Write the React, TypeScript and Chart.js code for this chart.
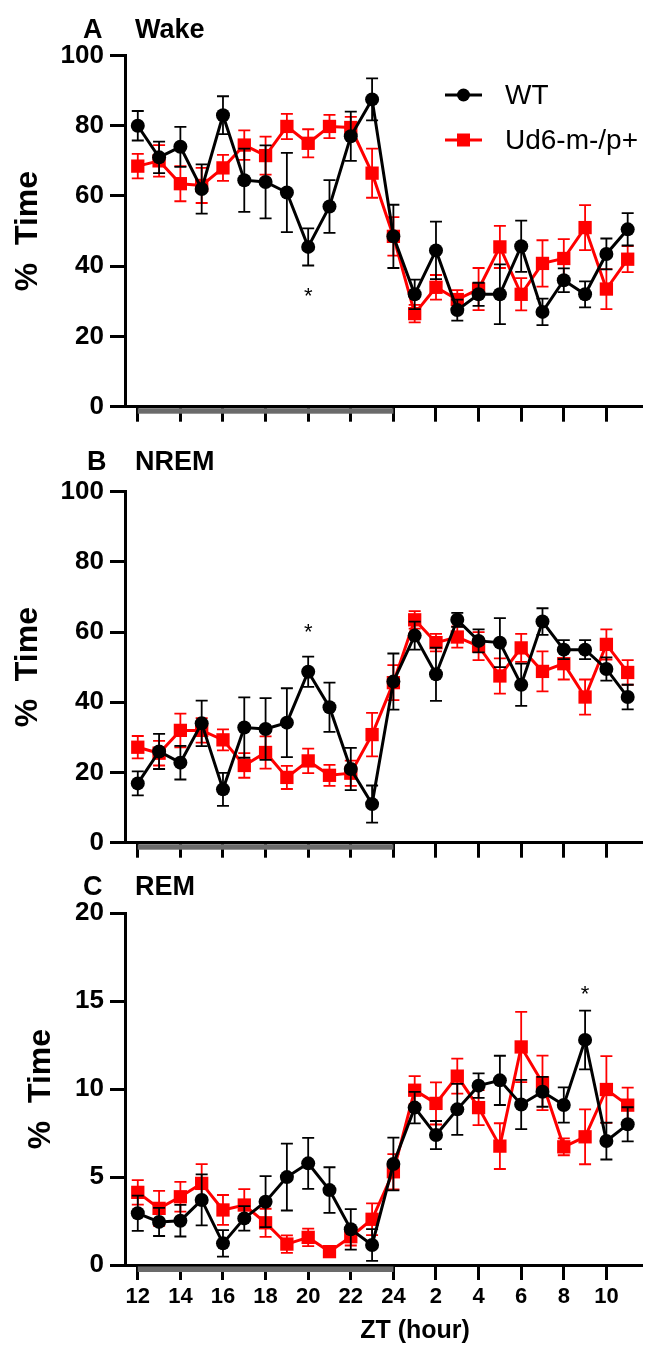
import React, { useEffect, useRef } from 'react';
import { Chart, registerables } from 'chart.js';

Chart.register(...registerables);

const FONT = "'Liberation Sans', Arial, Helvetica, sans-serif";

// ZT hours, one point per hour (index 0 = ZT12 ... index 23 = ZT11)
const ztHours = [12, 13, 14, 15, 16, 17, 18, 19, 20, 21, 22, 23, 24, 1, 2, 3, 4, 5, 6, 7, 8, 9, 10, 11];
const xTickPositions = [0, 2, 4, 6, 8, 10, 12, 14, 16, 18, 20, 22];
const xTickLabels = ['12', '14', '16', '18', '20', '22', '24', '2', '4', '6', '8', '10'];
const darkPhase = [0, 12];

const seriesNames = ['WT', 'Ud6-m-/p+'];
const seriesColors = ['#000000', '#ff0000'];

// Panel A: Wake
const wakeWT = [80, 71, 74, 62, 83, 64.5, 64, 61, 45.5, 57, 77, 87.5, 48.5, 32, 44.5, 27.5, 32, 32, 45.7, 27, 36, 32, 43.5, 50.5];
const wakeWTsem = [4.2, 4.5, 5.7, 7, 5.4, 9, 10.4, 11.3, 5.3, 7.5, 7, 6, 9, 4.2, 8.2, 3, 3.3, 8.5, 7.3, 3.8, 3.4, 3.7, 4.4, 4.6];
const wakeMut = [68.5, 70, 63.5, 63, 68, 74.5, 71.5, 79.8, 75, 79.8, 79.5, 66.5, 48.5, 26.5, 34, 30.5, 33.5, 45.5, 32, 40.8, 42.2, 51, 33.5, 42];
const wakeMutSem = [3.5, 4.5, 5, 5, 3.7, 4.2, 5.4, 3.6, 4, 3.3, 3, 7, 5.5, 2.5, 3.5, 2.7, 6, 6, 4.6, 6.6, 5.5, 6.4, 5.7, 3.7];

// Panel B: NREM
const nremWT = [16.9, 26, 22.8, 34, 15.2, 32.8, 32.4, 34.2, 48.7, 38.6, 21, 11, 45.9, 59, 48, 63.5, 57.5, 57, 45, 63, 55, 55, 49.5, 41.5];
const nremWTsem = [3.4, 5, 4.8, 6.5, 4.7, 8.6, 8.8, 9.8, 4.3, 7, 6, 5.3, 8, 4, 7.6, 2, 3.3, 7, 6, 3.8, 2.7, 2.7, 3.3, 3.5];
const nremMut = [27.2, 25.5, 32, 32, 29.3, 22, 25.7, 18.6, 23.3, 19.2, 19.8, 30.8, 45.6, 63.5, 57, 58.6, 56, 47.5, 55.5, 48.8, 51, 41.5, 56.5, 48.5];
const nremMutSem = [3.2, 3.5, 4.8, 3.5, 3, 3.5, 4.6, 3.3, 3.5, 3, 3.6, 6.2, 5, 2.5, 2.5, 3, 4, 5, 4, 5.7, 4.5, 5, 4.3, 3.5];

// Panel C: REM
const remWT = [2.94, 2.45, 2.52, 3.7, 1.23, 2.65, 3.6, 5.0, 5.78, 4.26, 2.03, 1.14, 5.74, 8.95, 7.39, 8.85, 10.2, 10.5, 9.13, 9.85, 9.1, 12.8, 7.05, 8.0];
const remWTsem = [1.0, 0.8, 0.9, 1.45, 0.75, 0.7, 1.45, 1.9, 1.45, 1.3, 1.15, 0.9, 1.5, 0.9, 0.8, 1.45, 0.7, 1.4, 1.4, 0.85, 1.0, 1.67, 1.05, 0.97];
const remMut = [4.13, 3.22, 3.88, 4.64, 3.13, 3.41, 2.4, 1.19, 1.57, 0.76, 1.61, 2.6, 5.3, 9.94, 9.19, 10.74, 8.95, 6.76, 12.4, 10.36, 6.72, 7.29, 9.98, 9.09];
const remMutSem = [0.7, 1.0, 0.85, 1.1, 0.85, 0.9, 0.8, 0.5, 0.5, 0.3, 0.5, 0.9, 1.0, 0.8, 1.2, 1.0, 1.0, 1.3, 2.0, 1.55, 0.48, 1.56, 1.9, 1.0];

// significance marks: [point index, y value]
const starA = [8, 33];
const starB = [8, 61.5];
const starC = [21, 15.7];

const yTicksA = [0, 20, 40, 60, 80, 100];
const yTicksC = [0, 5, 10, 15, 20];

type PanelCfg = {
  letter: string;
  title: string;
  yTicks: number[];
  wt: number[];
  wtSem: number[];
  mut: number[];
  mutSem: number[];
  star: number[];
  legend: boolean;
  xLabels: boolean;
  top: number;
  height: number;
  areaTop: number;
  areaBottom: number;
  titleY: number;
  letterX: number;
  yTitlePad: number;
};

const panels: PanelCfg[] = [
  { letter: 'A', title: 'Wake', yTicks: yTicksA, wt: wakeWT, wtSem: wakeWTsem, mut: wakeMut, mutSem: wakeMutSem, star: starA,
    legend: true, xLabels: false, top: 0, height: 430, areaTop: 55.5, areaBottom: 406.7, titleY: 38, letterX: 83, yTitlePad: 9 },
  { letter: 'B', title: 'NREM', yTicks: yTicksA, wt: nremWT, wtSem: nremWTsem, mut: nremMut, mutSem: nremMutSem, star: starB,
    legend: false, xLabels: false, top: 430, height: 430, areaTop: 61.7, areaBottom: 412.7, titleY: 40, letterX: 87, yTitlePad: 9 },
  { letter: 'C', title: 'REM', yTicks: yTicksC, wt: remWT, wtSem: remWTsem, mut: remMut, mutSem: remMutSem, star: starC,
    legend: false, xLabels: true, top: 860, height: 487, areaTop: 53.3, areaBottom: 405, titleY: 35, letterX: 83, yTitlePad: 22 },
];

function Panel({ cfg }: { cfg: PanelCfg }) {
  const ref = useRef<HTMLCanvasElement>(null);
  useEffect(() => {
    const canvas = ref.current;
    if (!canvas) return;
    const H = cfg.height;
    const series = [cfg.wt, cfg.mut];
    const sems = [cfg.wtSem, cfg.mutSem];
    const yMax = cfg.yTicks[cfg.yTicks.length - 1];

    const deco = {
      id: 'deco',
      beforeDatasetDraw(chart: any, args: any) {
        const i = args.index;
        const xs = chart.scales.x;
        const ys = chart.scales.y;
        const ctx = chart.ctx;
        ctx.save();
        ctx.strokeStyle = seriesColors[i];
        ctx.lineWidth = 1.8;
        series[i].forEach((v: number, j: number) => {
          const s = sems[i][j];
          const x = xs.getPixelForValue(j);
          const y1 = ys.getPixelForValue(v + s);
          const y2 = ys.getPixelForValue(v - s);
          ctx.beginPath();
          ctx.moveTo(x, y1);
          ctx.lineTo(x, y2);
          ctx.moveTo(x - 6, y1);
          ctx.lineTo(x + 6, y1);
          ctx.moveTo(x - 6, y2);
          ctx.lineTo(x + 6, y2);
          ctx.stroke();
        });
        ctx.restore();
      },
      afterDraw(chart: any) {
        const xs = chart.scales.x;
        const ys = chart.scales.y;
        const ctx = chart.ctx;
        const area = chart.chartArea;
        ctx.save();
        // dark phase bar
        const x0 = xs.getPixelForValue(darkPhase[0]);
        const x1 = xs.getPixelForValue(darkPhase[1]);
        ctx.fillStyle = '#6b6b6b';
        ctx.fillRect(x0, area.bottom + 1.5, x1 - x0, 5.5);
        // significance star
        ctx.fillStyle = '#000';
        ctx.font = `22px ${FONT}`;
        ctx.textAlign = 'center';
        ctx.textBaseline = 'alphabetic';
        ctx.fillText('*', xs.getPixelForValue(cfg.star[0]), ys.getPixelForValue(cfg.star[1]) + 12.5);
        // panel letter and title
        ctx.font = `bold 27px ${FONT}`;
        ctx.textAlign = 'left';
        ctx.fillText(cfg.letter, cfg.letterX, cfg.titleY);
        ctx.fillText(cfg.title, 135, cfg.titleY);
        // legend
        if (cfg.legend) {
          const rowsY = [95, 140];
          seriesNames.forEach((name, i) => {
            const y = rowsY[i];
            ctx.strokeStyle = seriesColors[i];
            ctx.fillStyle = seriesColors[i];
            ctx.lineWidth = 3;
            ctx.beginPath();
            ctx.moveTo(445, y);
            ctx.lineTo(482, y);
            ctx.stroke();
            if (i === 0) {
              ctx.beginPath();
              ctx.arc(463.5, y, 6.5, 0, Math.PI * 2);
              ctx.fill();
            } else {
              ctx.fillRect(457, y - 6.5, 13, 13);
            }
            ctx.fillStyle = '#000';
            ctx.font = `28px ${FONT}`;
            ctx.textBaseline = 'middle';
            ctx.fillText(name, 505, y + 1);
          });
        }
        // x axis title
        if (cfg.xLabels) {
          ctx.fillStyle = '#000';
          ctx.font = `bold 25px ${FONT}`;
          ctx.textAlign = 'center';
          ctx.textBaseline = 'alphabetic';
          ctx.fillText('ZT (hour)', 415, 478);
        }
        ctx.restore();
      },
    };

    const chart = new Chart(canvas, {
      type: 'line',
      data: {
        datasets: [
          {
            label: seriesNames[0],
            data: cfg.wt.map((v, i) => ({ x: i, y: v })),
            borderColor: seriesColors[0],
            backgroundColor: seriesColors[0],
            borderWidth: 3,
            pointStyle: 'circle',
            pointRadius: 7,
            pointBorderWidth: 0,
            pointBackgroundColor: seriesColors[0],
            tension: 0,
            clip: false as any,
          },
          {
            label: seriesNames[1],
            data: cfg.mut.map((v, i) => ({ x: i, y: v })),
            borderColor: seriesColors[1],
            backgroundColor: seriesColors[1],
            borderWidth: 3,
            pointStyle: 'rect',
            pointRadius: 9.4,
            pointBorderWidth: 0,
            pointBackgroundColor: seriesColors[1],
            tension: 0,
            clip: false as any,
          },
        ],
      },
      options: {
        responsive: false,
        animation: false,
        devicePixelRatio: 1,
        layout: { padding: { top: cfg.areaTop, right: 1, bottom: 0, left: 0 } },
        plugins: {
          legend: { display: false },
          tooltip: { enabled: false },
          title: { display: false },
        },
        scales: {
          x: {
            type: 'linear',
            min: -0.6,
            max: 23.7,
            afterBuildTicks: (scale: any) => {
              scale.ticks = xTickPositions.map((v) => ({ value: v }));
            },
            afterFit: (scale: any) => {
              scale.height = H - cfg.areaBottom;
              scale.paddingLeft = 0;
              scale.paddingRight = 0;
            },
            grid: {
              display: true,
              drawOnChartArea: false,
              drawTicks: true,
              tickLength: 15,
              tickWidth: 3,
              tickColor: '#000',
            },
            border: { display: true, width: 3, color: '#000' },
            ticks: {
              display: cfg.xLabels,
              padding: 4,
              color: '#000',
              font: { family: FONT, size: 22, weight: 'bold' },
              maxRotation: 0,
              autoSkip: false,
              callback: (_v: any, idx: number) => xTickLabels[idx],
            },
          },
          y: {
            type: 'linear',
            min: 0,
            max: yMax,
            afterBuildTicks: (scale: any) => {
              scale.ticks = cfg.yTicks.map((v) => ({ value: v }));
            },
            afterFit: (scale: any) => {
              scale.width = 125;
              scale.paddingTop = 0;
              scale.paddingBottom = 0;
            },
            grid: {
              display: true,
              drawOnChartArea: false,
              drawTicks: true,
              tickLength: 15,
              tickWidth: 3,
              tickColor: '#000',
            },
            border: { display: true, width: 3, color: '#000' },
            ticks: {
              padding: 6,
              color: '#000',
              font: { family: FONT, size: 26, weight: 'bold' },
              autoSkip: false,
            },
            title: {
              display: true,
              text: '%  Time',
              color: '#000',
              font: { family: FONT, size: 32, weight: 'bold' },
              padding: { top: cfg.yTitlePad, bottom: 0 },
            },
          },
        },
      },
      plugins: [deco],
    } as any);
    return () => chart.destroy();
  }, [cfg]);
  return (
    <canvas
      ref={ref}
      width={652}
      height={cfg.height}
      style={{ position: 'absolute', left: 0, top: cfg.top, width: 652, height: cfg.height, display: 'block' }}
    />
  );
}

export default function App() {
  return (
    <div style={{ position: 'absolute', left: 0, top: 0, width: 652, height: 1347, background: '#fff', overflow: 'hidden' }}>
      {panels.map((p) => (
        <Panel key={p.letter} cfg={p} />
      ))}
    </div>
  );
}
